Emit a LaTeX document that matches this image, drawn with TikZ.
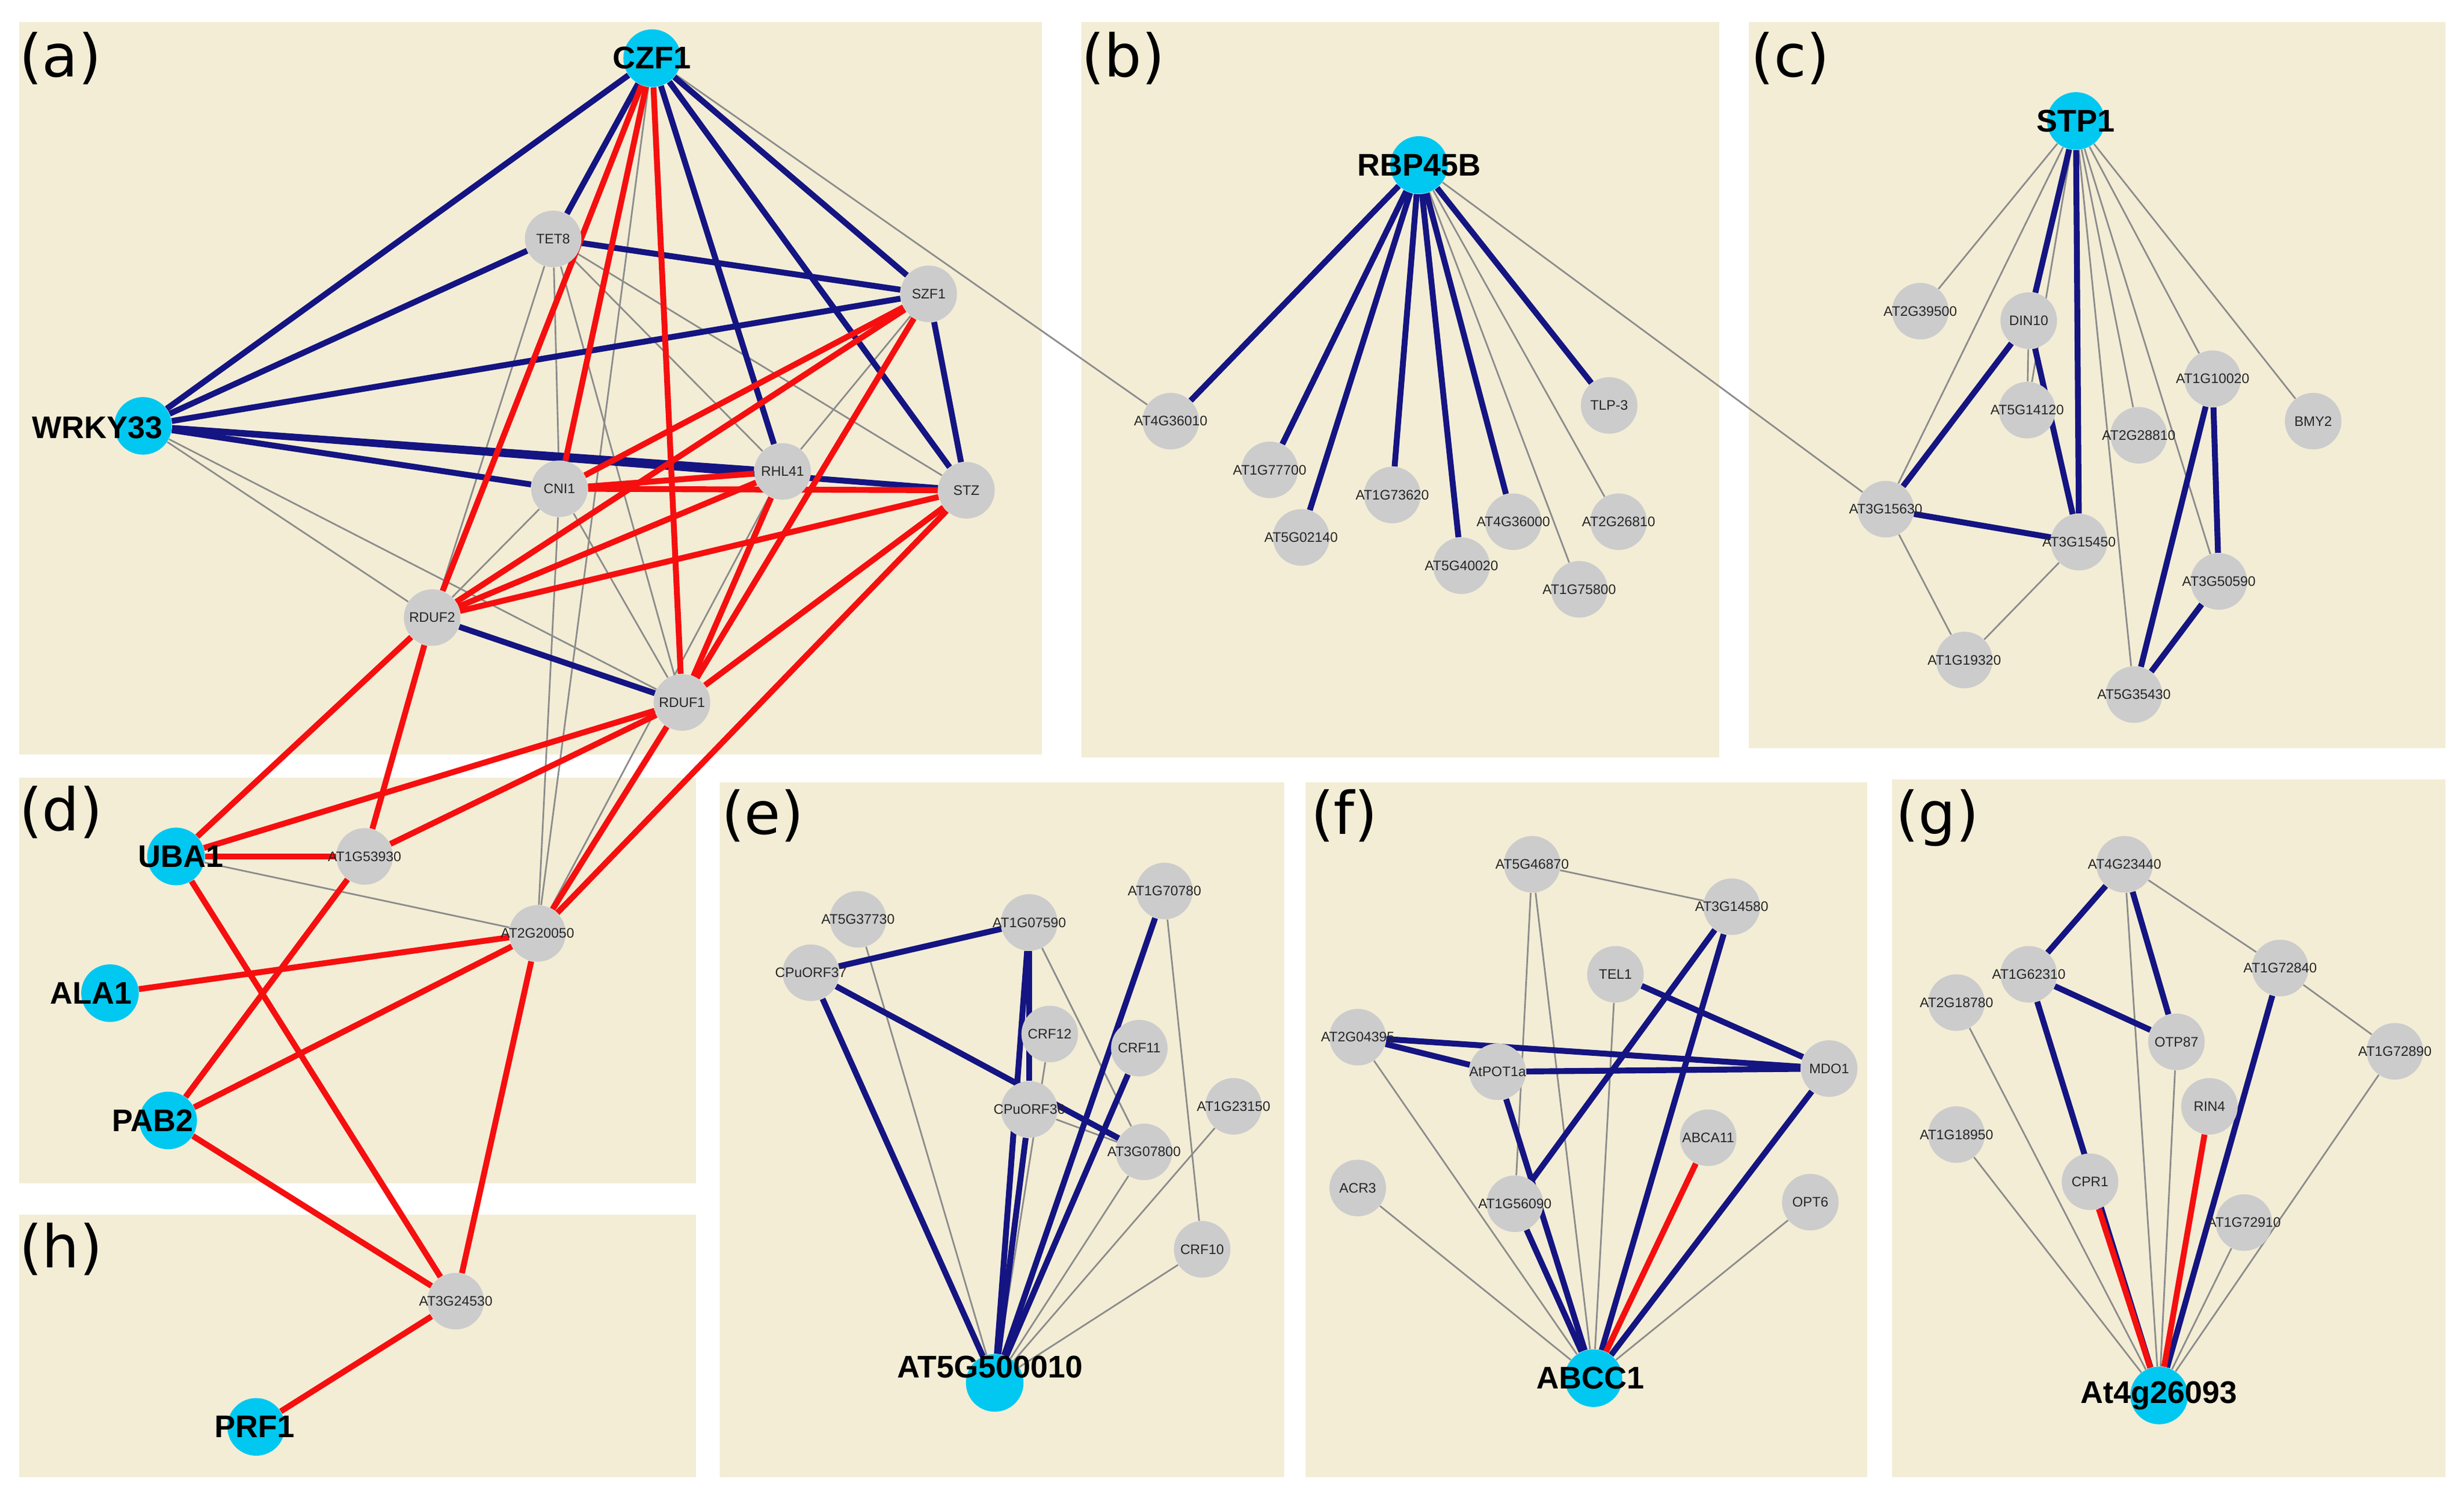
\documentclass[tikz,border=0pt]{standalone}
\usepackage{fontspec}
\setmainfont{Liberation Sans}
\newfontfamily\letfont{DejaVu Sans}
\begin{document}
\pgfdeclarelayer{bg}\pgfdeclarelayer{edges}
\pgfsetlayers{bg,edges,main}
\definecolor{panelbg}{RGB}{243,237,214}
\definecolor{hubc}{RGB}{0,200,240}
\definecolor{gnc}{RGB}{204,204,204}
\definecolor{navy}{RGB}{20,20,130}
\definecolor{redc}{RGB}{245,15,15}
\definecolor{grayc}{RGB}{140,140,140}
\begin{tikzpicture}[x=0.03cm,y=-0.03cm,
  gn/.style={circle,fill=gnc,inner sep=0pt,minimum size=1.08cm},
  hub/.style={circle,fill=hubc,inner sep=0pt,minimum size=1.1cm},
  gl/.style={font=\fontsize{7.5}{8}\selectfont,text=black!85},
  hl/.style={font=\fontsize{17}{18}\selectfont\bfseries,text=black},
  panel/.style={fill=panelbg,draw=none},
  plet/.style={font=\letfont\fontsize{32}{33}\selectfont,anchor=north west,inner sep=0pt},
  be/.style={draw=navy,line width=3.2pt},
  re/.style={draw=redc,line width=3.2pt},
  ge/.style={draw=grayc,line width=0.9pt}]
\useasboundingbox (0,0) rectangle (1568,953);
% panels
\begin{pgfonlayer}{bg}
\fill[white] (0,0) rectangle (1568,953);
\fill[panel] (12,14) rectangle (663,480);
\fill[panel] (688,14) rectangle (1094,482);
\fill[panel] (1113,14) rectangle (1556,476);
\fill[panel] (12,495) rectangle (443,753);
\fill[panel] (12,773) rectangle (443,940);
\fill[panel] (458,498) rectangle (817,940);
\fill[panel] (831,498) rectangle (1188,940);
\fill[panel] (1204,496) rectangle (1556,940);
\end{pgfonlayer}
\node[plet] (la) at (12,20) {(a)};
\node[plet] (lb) at (688,20) {(b)};
\node[plet] (lc) at (1114,20) {(c)};
\node[plet] (ld) at (12,500) {(d)};
\node[plet] (lh) at (12,778) {(h)};
\node[plet] (le) at (459,502) {(e)};
\node[plet] (lf) at (834,502) {(f)};
\node[plet] (lg) at (1206,502) {(g)};
% ---------- panel a / d / h nodes
\node[hub] (czf1) at (415,37) {};
\node[hl] (czf1t) at (415,37) {CZF1};
\node[hub] (wrky) at (91,271) {};
\node[hl] (wrkyt) at (62,272) {WRKY33};
\node[gn,label={[gl]center:TET8}] (tet8) at (352,152) {};
\node[gn,label={[gl]center:SZF1}] (szf1) at (591,187) {};
\node[gn,label={[gl]center:CNI1}] (cni1) at (356,311) {};
\node[gn,label={[gl]center:RHL41}] (rhl41) at (498,300) {};
\node[gn,label={[gl]center:STZ}] (stz) at (615,312) {};
\node[gn,label={[gl]center:RDUF2}] (rduf2) at (275,393) {};
\node[gn,label={[gl]center:RDUF1}] (rduf1) at (434,447) {};
\node[hub] (uba1) at (112,545) {};
\node[hl] (uba1t) at (115,545) {UBA1};
\node[hub] (ala1) at (70,632) {};
\node[hl] (ala1t) at (58,632) {ALA1};
\node[hub] (pab2) at (107,713) {};
\node[hl] (pab2t) at (97,713) {PAB2};
\node[hub] (prf1) at (163,908) {};
\node[hl] (prf1t) at (162,908) {PRF1};
\node[gn,label={[gl]center:AT1G53930}] (at1g53930) at (232,545) {};
\node[gn,label={[gl]center:AT2G20050}] (at2g20050) at (342,594) {};
\node[gn,label={[gl]center:AT3G24530}] (at3g24530) at (290,828) {};
% ---------- panel b
\node[hub] (rbp) at (903,105) {};
\node[hl] (rbpt) at (903,105) {RBP45B};
\node[gn,label={[gl]center:AT4G36010}] (b1) at (745,268) {};
\node[gn,label={[gl]center:AT1G77700}] (b2) at (808,299) {};
\node[gn,label={[gl]center:AT5G02140}] (b3) at (828,342) {};
\node[gn,label={[gl]center:AT1G73620}] (b4) at (886,315) {};
\node[gn,label={[gl]center:AT5G40020}] (b5) at (930,360) {};
\node[gn,label={[gl]center:AT4G36000}] (b6) at (963,332) {};
\node[gn,label={[gl]center:AT2G26810}] (b7) at (1030,332) {};
\node[gn,label={[gl]center:AT1G75800}] (b8) at (1005,375) {};
\node[gn,label={[gl]center:TLP-3}] (b9) at (1024,258) {};
% ---------- panel c
\node[hub] (stp1) at (1321,77) {};
\node[hl] (stp1t) at (1321,77) {STP1};
\node[gn,label={[gl]center:AT2G39500}] (c1) at (1222,198) {};
\node[gn,label={[gl]center:DIN10}] (c2) at (1291,204) {};
\node[gn,label={[gl]center:AT5G14120}] (c3) at (1290,261) {};
\node[gn,label={[gl]center:AT2G28810}] (c4) at (1361,277) {};
\node[gn,label={[gl]center:AT1G10020}] (c5) at (1408,241) {};
\node[gn,label={[gl]center:BMY2}] (c6) at (1472,268) {};
\node[gn,label={[gl]center:AT3G15630}] (c7) at (1200,324) {};
\node[gn,label={[gl]center:AT3G15450}] (c8) at (1323,345) {};
\node[gn,label={[gl]center:AT3G50590}] (c9) at (1412,370) {};
\node[gn,label={[gl]center:AT1G19320}] (c10) at (1250,420) {};
\node[gn,label={[gl]center:AT5G35430}] (c11) at (1358,442) {};
% ---------- panel e
\node[hub] (ehub) at (633,880) {};
\node[hl] (ehubt) at (630,870) {AT5G500010};
\node[gn,label={[gl]center:AT5G37730}] (e1) at (546,585) {};
\node[gn,label={[gl]center:AT1G07590}] (e2) at (655,587) {};
\node[gn,label={[gl]center:AT1G70780}] (e3) at (741,567) {};
\node[gn,label={[gl]center:CPuORF37}] (e4) at (516,619) {};
\node[gn,label={[gl]center:CRF12}] (e5) at (668,658) {};
\node[gn,label={[gl]center:CRF11}] (e6) at (725,667) {};
\node[gn,label={[gl]center:CPuORF36}] (e7) at (655,706) {};
\node[gn,label={[gl]center:AT3G07800}] (e8) at (728,733) {};
\node[gn,label={[gl]center:AT1G23150}] (e9) at (785,704) {};
\node[gn,label={[gl]center:CRF10}] (e10) at (765,795) {};
% ---------- panel f
\node[hub] (fhub) at (1014,877) {};
\node[hl] (fhubt) at (1012,877) {ABCC1};
\node[gn,label={[gl]center:AT5G46870}] (f1) at (975,550) {};
\node[gn,label={[gl]center:AT3G14580}] (f2) at (1102,577) {};
\node[gn,label={[gl]center:TEL1}] (f3) at (1028,620) {};
\node[gn,label={[gl]center:AT2G04395}] (f4) at (864,660) {};
\node[gn,label={[gl]center:AtPOT1a}] (f5) at (953,682) {};
\node[gn,label={[gl]center:MDO1}] (f6) at (1164,680) {};
\node[gn,label={[gl]center:ABCA11}] (f7) at (1087,724) {};
\node[gn,label={[gl]center:ACR3}] (f8) at (864,756) {};
\node[gn,label={[gl]center:AT1G56090}] (f9) at (964,766) {};
\node[gn,label={[gl]center:OPT6}] (f10) at (1152,765) {};
% ---------- panel g
\node[hub] (ghub) at (1374,888) {};
\node[hl] (ghubt) at (1374,888) {At4g26093};
\node[gn,label={[gl]center:AT4G23440}] (g1) at (1352,550) {};
\node[gn,label={[gl]center:AT1G62310}] (g2) at (1291,620) {};
\node[gn,label={[gl]center:AT1G72840}] (g3) at (1451,616) {};
\node[gn,label={[gl]center:AT2G18780}] (g4) at (1245,638) {};
\node[gn,label={[gl]center:OTP87}] (g5) at (1385,663) {};
\node[gn,label={[gl]center:AT1G72890}] (g6) at (1524,669) {};
\node[gn,label={[gl]center:RIN4}] (g7) at (1406,704) {};
\node[gn,label={[gl]center:AT1G18950}] (g8) at (1245,722) {};
\node[gn,label={[gl]center:CPR1}] (g9) at (1330,752) {};
\node[gn,label={[gl]center:AT1G72910}] (g10) at (1428,778) {};
% ---------- edges
\begin{pgfonlayer}{edges}
% gray
\foreach \u/\v in {czf1/b1,czf1/at2g20050,rbp/c7,tet8/rduf2,tet8/cni1,tet8/rduf1,tet8/rhl41,tet8/stz,
  wrky/rduf2,wrky/rduf1,szf1/rhl41,szf1/rduf2,cni1/rduf2,cni1/rduf1,cni1/at2g20050,rhl41/at2g20050,
  uba1/at2g20050,
  rbp/b7,rbp/b8,
  stp1/c1,stp1/c7,stp1/c3,stp1/c4,stp1/c11,stp1/c9,stp1/c5,stp1/c6,c2/c3,c7/c10,c8/c10,
  e1/ehub,e2/e8,e3/e10,e5/ehub,e7/e8,e8/ehub,e9/ehub,e10/ehub,
  f1/f2,f1/fhub,f1/f9,f3/fhub,f4/fhub,f8/fhub,f10/fhub,
  g1/ghub,g1/g3,g3/g6,g4/ghub,g5/ghub,g6/ghub,g8/ghub,g10/ghub}
  \draw[ge] (\u) -- (\v);
% blue
\foreach \u/\v in {czf1/wrky,czf1/tet8,czf1/szf1,czf1/rhl41,czf1/stz,tet8/szf1,tet8/wrky,
  wrky/szf1,wrky/rhl41,wrky/stz,wrky/cni1,szf1/stz,rduf2/rduf1,
  rbp/b1,rbp/b2,rbp/b3,rbp/b4,rbp/b5,rbp/b6,rbp/b9,
  stp1/c2,stp1/c8,c2/c7,c2/c8,c7/c8,c5/c11,c5/c9,c9/c11,
  e4/e2,e4/e8,e4/ehub,e2/e7,e2/ehub,e3/ehub,e6/ehub,e7/ehub,
  f2/f9,f2/fhub,f3/f6,f4/f6,f4/f5,f5/f6,f5/fhub,f6/fhub,f9/fhub,
  g1/g2,g1/g5,g2/g5,g2/ghub,g3/ghub}
  \draw[be] (\u) -- (\v);
% red
\foreach \u/\v in {czf1/cni1,czf1/rduf2,czf1/rduf1,szf1/cni1,szf1/rduf2,szf1/rduf1,
  cni1/rhl41,cni1/stz,rhl41/rduf2,rhl41/rduf1,stz/rduf2,stz/rduf1,stz/at2g20050,
  rduf2/uba1,rduf2/at1g53930,rduf1/uba1,rduf1/at1g53930,rduf1/at2g20050,
  uba1/at1g53930,uba1/at3g24530,ala1/at2g20050,pab2/at1g53930,pab2/at2g20050,pab2/at3g24530,
  at2g20050/at3g24530,at3g24530/prf1,
  f7/fhub,g7/ghub,g9/ghub}
  \draw[re] (\u) -- (\v);
\end{pgfonlayer}
\end{tikzpicture}
\end{document}
